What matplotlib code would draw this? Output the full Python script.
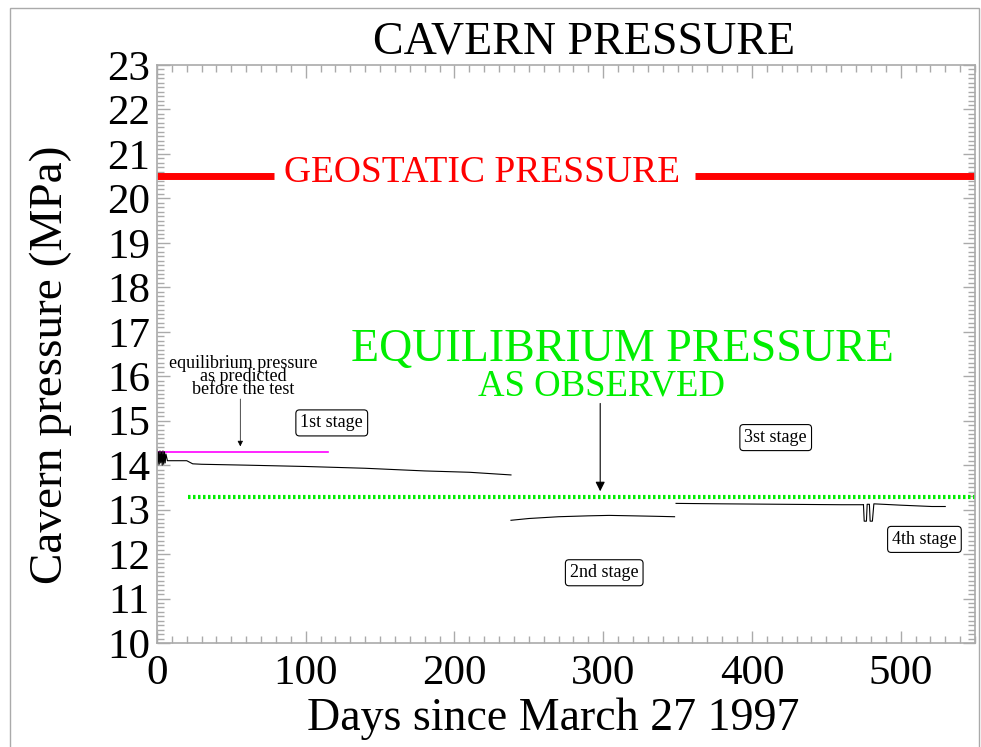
import numpy as np
import matplotlib
matplotlib.use("Agg")
import matplotlib.pyplot as plt
from matplotlib.patches import Rectangle

# ---- data ----
stage1_days = [0, 0.5, 1, 1.5, 2, 2.5, 3, 3.5, 4, 4.5, 5, 5.5, 6, 7, 20, 24, 30, 60, 100, 140, 180, 210, 238]
stage1_p = [14.35, 14.0, 14.3, 14.02, 14.32, 14.05, 14.3, 14.0, 14.32, 14.02, 14.3, 14.05, 14.25, 14.1, 14.1, 14.03, 14.02, 14.0, 13.97, 13.93, 13.87, 13.84, 13.78]
stage2_days = [238, 250, 270, 290, 304, 320, 335, 348]
stage2_p = [12.76, 12.8, 12.84, 12.86, 12.87, 12.86, 12.85, 12.84]
stage3_days = [349, 380, 420, 460, 475]
stage3_p = [13.14, 13.13, 13.12, 13.11, 13.11]
stage4_days = [475, 475.5, 477, 477.5, 479, 479.5, 481, 482, 500, 521, 530]
stage4_p = [13.11, 12.74, 12.74, 13.12, 13.12, 12.74, 12.74, 13.13, 13.1, 13.07, 13.07]

geostatic_p = 20.5
geostatic_gap = [79, 362]
equilibrium_obs_p = 13.28
equilibrium_obs_start = 21
equilibrium_pred_p = 14.3
equilibrium_pred_end = 115

stage_labels = ["1st stage", "2nd stage", "3st stage", "4th stage"]
stage_label_pos = [(117.5, 14.95), (300.7, 11.58), (416, 14.62), (516, 12.33)]

xticks = [0, 100, 200, 300, 400, 500]
yticks = list(range(10, 24))

# ---- figure ----
W, H = 981, 747
fig = plt.figure(figsize=(W / 100, H / 100), dpi=100)
serif = ["Liberation Serif", "DejaVu Serif"]
plt.rcParams["font.family"] = serif

ax = fig.add_axes([157 / W, 1 - 643 / H, (975 - 157) / W, (643 - 65) / H])
ax.set_xlim(0, 550)
ax.set_ylim(10, 23)

axis_col = "#aaaaaa"
for s in ax.spines.values():
    s.set_color(axis_col)
    s.set_linewidth(1.2)

ax.set_xticks(xticks)
ax.set_yticks(yticks)
ax.set_xticks(np.arange(0, 551, 10), minor=True)
ax.set_yticks(np.arange(10, 23.01, 0.1), minor=True)
ax.tick_params(which="both", direction="in", top=True, right=True, color=axis_col)
ax.tick_params(which="major", length=9, width=1, labelsize=31)
ax.tick_params(axis="y", which="major", pad=5)
ax.tick_params(axis="x", which="major", pad=8)
ax.tick_params(which="minor", length=5, width=1)
for lbl in ax.get_xticklabels() + ax.get_yticklabels():
    lbl.set_family(serif)

ax.set_xlabel("Days since March 27 1997", fontsize=33)
ax.xaxis.set_label_coords(0.484, -0.095)
ax.set_ylabel("Cavern pressure (MPa)", fontsize=34)
ax.yaxis.set_label_coords(-0.104, 0.481)
ax.text(0.522, 1.0 + 2 / 578, "CAVERN PRESSURE", transform=ax.transAxes, fontsize=33,
        ha="center", va="bottom")

# geostatic
ax.plot([0, geostatic_gap[0]], [geostatic_p, geostatic_p], color="#ff0000", lw=5, solid_capstyle="butt")
ax.plot([geostatic_gap[1], 550], [geostatic_p, geostatic_p], color="#ff0000", lw=5, solid_capstyle="butt")
ax.text(sum(geostatic_gap) / 2 - 2, geostatic_p + 0.07, "GEOSTATIC PRESSURE", color="#ff0000",
        fontsize=27, ha="center", va="center")

# equilibrium observed
ax.plot([equilibrium_obs_start, 550], [equilibrium_obs_p, equilibrium_obs_p], color="#00ee00",
        lw=3, linestyle=(0, (0.6, 0.6)))
ax.text(313, 16.6, "EQUILIBRIUM PRESSURE", color="#00ee00", fontsize=33, ha="center", va="center")
ax.text(299, 15.78, "AS OBSERVED", color="#00ee00", fontsize=26.5, ha="center", va="center")
ax.annotate("", xy=(298, 13.35), xytext=(298, 15.45),
            arrowprops=dict(arrowstyle="-|>", color="black", lw=0.8, mutation_scale=14))

# equilibrium predicted
ax.plot([0, equilibrium_pred_end], [equilibrium_pred_p, equilibrium_pred_p], color="#ff00ff", lw=1.2)
ax.text(58, 16.0, "equilibrium pressure\nas predicted\nbefore the test", fontsize=13,
        ha="center", va="center", linespacing=0.7)
ax.annotate("", xy=(56, 14.36), xytext=(56, 15.55),
            arrowprops=dict(arrowstyle="-|>", color="black", lw=0.5, mutation_scale=8))

# data
for d, p in [(stage1_days, stage1_p), (stage2_days, stage2_p), (stage3_days, stage3_p), (stage4_days, stage4_p)]:
    ax.plot(d, p, color="black", lw=0.8)

for lbl, (x, y) in zip(stage_labels, stage_label_pos):
    ax.text(x, y, lbl, fontsize=13, ha="center", va="center",
            bbox=dict(boxstyle="round,pad=0.25,rounding_size=0.2", fc="white", ec="black", lw=0.8))

# figure border
fig.patches.append(Rectangle((10 / W, -0.01), (979 - 10) / W, 1 - 8 / H + 0.01,
                             transform=fig.transFigure, fill=False, ec="#aaaaaa", lw=1))

fig.savefig("out.png", dpi=100)
